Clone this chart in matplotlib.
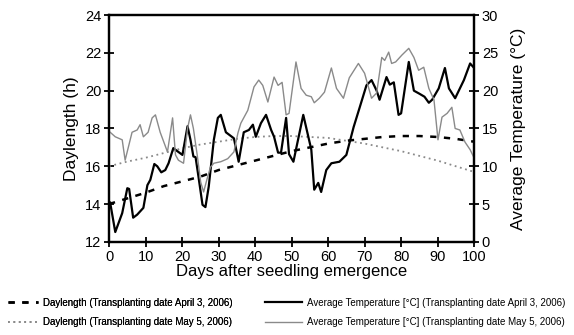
import matplotlib
matplotlib.use("Agg")
import matplotlib.pyplot as plt

plt.rcParams['font.family'] = ['Liberation Sans', 'DejaVu Sans']

# Fotoperiodo cada 5 días (h)
dias_fotoperiodo = [0, 5, 10, 15, 20, 25, 30, 35, 40, 45, 50, 55, 60, 65, 70, 75, 80, 85, 90, 95, 100]
fotoperiodo_abril = [14.0, 14.3, 14.6, 14.95, 15.2, 15.45, 15.8, 16.05, 16.3, 16.55, 16.8,
                     17.0, 17.2, 17.35, 17.45, 17.55, 17.6, 17.6, 17.55, 17.45, 17.3]
fotoperiodo_mayo = [16.0, 16.25, 16.45, 16.7, 16.95, 17.15, 17.3, 17.45, 17.55, 17.6, 17.6,
                    17.55, 17.5, 17.35, 17.2, 17.0, 16.8, 16.55, 16.3, 16.0, 15.7]

# Temperatura media diaria (°C), trasplante 3 de abril
dias_temp_abril = [0.3, 1.7, 3.6, 5.0, 5.5, 6.6, 7.7, 9.4, 10.5, 11.3, 12.4, 13.2, 14.3, 15.4,
                   16.3, 17.6, 18.7, 20.1, 21.5, 22.3, 23.1, 23.7, 24.5, 25.6, 26.4, 27.3, 28.7,
                   29.8, 30.6, 32.0, 34.2, 35.5, 36.9, 38.3, 39.4, 40.2, 41.6, 43.0, 44.4, 45.2,
                   46.3, 47.1, 48.5, 49.3, 50.5, 53.2, 55.4, 56.2, 57.3, 58.1, 59.5, 60.9, 63.1,
                   65.0, 67.0, 68.6, 70.5, 71.9, 73.3, 74.1, 76.0, 76.9, 78.0, 79.3, 80.0, 82.1,
                   83.5, 85.0, 86.4, 87.6, 88.5, 90.3, 92.0, 93.1, 94.8, 97.2, 98.9, 100.0]
temp_abril = [5.2, 1.3, 3.8, 7.1, 7.0, 3.2, 3.6, 4.5, 7.5, 8.2, 10.3, 10.0, 9.2, 9.5,
              10.4, 12.4, 12.0, 11.5, 15.3, 13.5, 11.3, 11.2, 8.6, 4.9, 4.6, 7.3, 13.5,
              16.4, 16.8, 14.5, 13.7, 10.6, 14.5, 14.8, 15.5, 13.9, 15.7, 16.8, 14.8, 13.9,
              11.8, 11.8, 16.4, 11.6, 10.6, 16.8, 12.2, 6.9, 7.8, 6.6, 9.5, 10.4, 10.6,
              11.5, 15.2, 17.7, 20.7, 21.4, 20.0, 18.8, 21.8, 20.8, 21.1, 16.8, 17.0, 23.8,
              20.0, 19.6, 19.2, 18.4, 18.8, 20.3, 23.0, 20.3, 19.0, 21.4, 23.6, 23.0]

# Temperatura media diaria (°C), trasplante 5 de mayo
dias_temp_mayo = [0.3, 1.7, 3.6, 4.4, 6.3, 7.7, 8.5, 9.4, 10.7, 11.8, 12.7, 14.0, 16.0, 17.4,
                  18.2, 19.0, 20.4, 21.5, 22.3, 23.1, 24.2, 25.1, 25.9, 27.0, 27.8, 28.7, 30.6,
                  32.5, 34.2, 35.3, 36.1, 38.0, 39.7, 41.0, 42.1, 43.5, 45.2, 46.3, 47.4, 48.5,
                  49.3, 51.2, 52.6, 54.0, 55.4, 56.2, 57.6, 59.0, 60.9, 62.3, 64.2, 65.8, 68.3,
                  70.0, 71.9, 73.3, 74.7, 75.5, 76.6, 77.4, 78.5, 80.2, 82.1, 83.5, 84.8, 86.2,
                  87.6, 89.0, 90.1, 91.2, 92.6, 93.9, 94.8, 96.1, 97.5, 98.9, 100.0]
temp_mayo = [14.5, 13.9, 13.5, 10.8, 14.5, 14.8, 15.5, 13.9, 14.5, 16.4, 16.8, 14.5, 11.9, 16.4,
             11.5, 10.8, 10.4, 15.0, 16.8, 15.0, 11.3, 7.9, 6.6, 8.6, 9.9, 10.4, 10.6,
             11.0, 11.9, 14.4, 15.7, 17.4, 20.5, 21.4, 20.7, 18.5, 21.8, 20.7, 21.1, 16.8,
             17.0, 23.8, 20.3, 19.4, 19.2, 18.4, 19.0, 19.8, 23.0, 20.3, 19.0, 21.7, 23.6,
             22.3, 19.0, 19.7, 24.4, 24.0, 25.1, 23.6, 23.8, 24.7, 25.6, 24.4, 22.7, 23.1,
             20.3, 18.8, 13.5, 16.5, 17.0, 17.8, 15.0, 14.8, 13.2, 12.2, 11.1]

etiquetas = ['Daylength (Transplanting date April 3, 2006)',
             'Daylength (Transplanting date May 5, 2006)',
             'Average Temperature [°C] (Transplanting date April 3, 2006)',
             'Average Temperature [°C] (Transplanting date May 5, 2006)']

fig = plt.figure(figsize=(5.74, 3.35), dpi=100)
ax = fig.add_axes([0.19, 0.278, 0.636, 0.677])
ax2 = ax.twinx()

gris = '#8a8a8a'
l1, = ax.plot(dias_fotoperiodo, fotoperiodo_abril, color='black', lw=1.8, ls=(0, (2.5, 3)))
l2, = ax.plot(dias_fotoperiodo, fotoperiodo_mayo, color=gris, lw=1.3, ls=(0, (1, 2)))
l3, = ax2.plot(dias_temp_abril, temp_abril, color='black', lw=1.6)
l4, = ax2.plot(dias_temp_mayo, temp_mayo, color=gris, lw=1.0)

ax.set_xlim(0, 100)
ax.set_ylim(12, 24)
ax2.set_ylim(0, 30)
ax.set_xticks(range(0, 101, 10))
ax.set_yticks(range(12, 25, 2))
ax2.set_yticks(range(0, 31, 5))

for a in (ax, ax2):
    for s in a.spines.values():
        s.set_linewidth(1.6)
    a.tick_params(direction='inout', length=7, width=1.3, labelsize=10.5, pad=2)

ax.set_xlabel('Days after seedling emergence', fontsize=12, labelpad=0)
ax.set_ylabel('Daylength (h)', fontsize=12.5, labelpad=4)
ax2.set_ylabel('Average Temperature (°C)', fontsize=12.5, labelpad=9)

# Leyenda en dos columnas bajo el gráfico
leg1 = fig.legend([l1, l2], etiquetas[:2], loc='lower left', bbox_to_anchor=(0.003, 0.005),
                  frameon=False, fontsize=7, handlelength=3.1, handletextpad=0.5,
                  labelspacing=1.0, borderaxespad=0.2)
leg2 = fig.legend([l3, l4], etiquetas[2:], loc='lower left', bbox_to_anchor=(0.452, 0.005),
                  frameon=False, fontsize=7, handlelength=3.8, handletextpad=0.5,
                  labelspacing=1.0, borderaxespad=0.2)
fig.add_artist(leg1)

fig.savefig('out.png', dpi=100)
